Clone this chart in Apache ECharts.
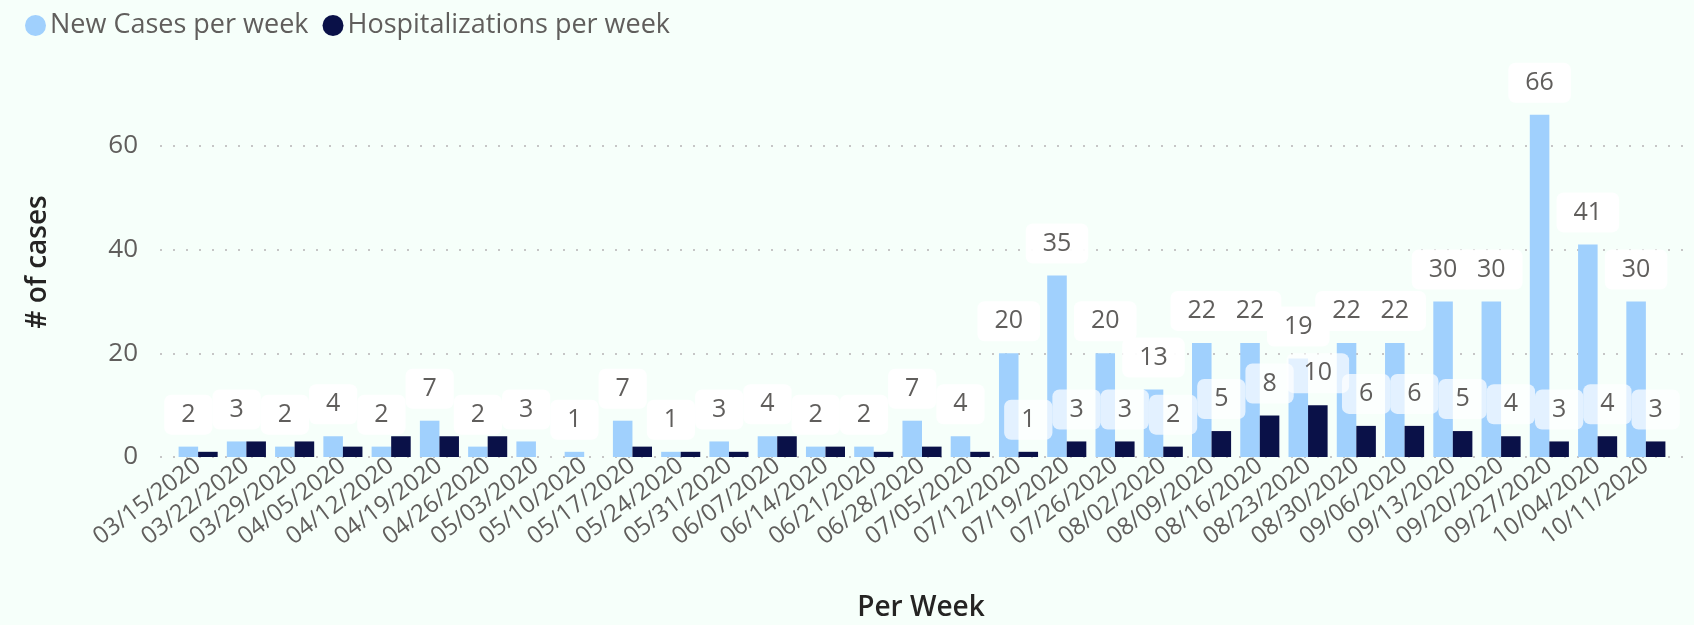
<!DOCTYPE html>
<html>
<head>
<meta charset="utf-8">
<script src="https://cdn.jsdelivr.net/npm/echarts@6/dist/echarts.min.js"></script>
<style>
html,body{margin:0;padding:0;background:#f6fffa;}
#chart{width:1694px;height:625px;}
</style>
</head>
<body>
<div id="chart"></div>
<script>
const weeks = ['03/15/2020','03/22/2020','03/29/2020','04/05/2020','04/12/2020','04/19/2020','04/26/2020','05/03/2020','05/10/2020','05/17/2020','05/24/2020','05/31/2020','06/07/2020','06/14/2020','06/21/2020','06/28/2020','07/05/2020','07/12/2020','07/19/2020','07/26/2020','08/02/2020','08/09/2020','08/16/2020','08/23/2020','08/30/2020','09/06/2020','09/13/2020','09/20/2020','09/27/2020','10/04/2020','10/11/2020'];
const newCases = [2,3,2,4,2,7,2,3,1,7,1,3,4,2,2,7,4,20,35,20,13,22,22,19,22,22,30,30,66,41,30];
const hospitalizations = [1,3,3,2,4,4,4,0,0,2,1,1,4,2,1,2,1,1,3,3,2,5,8,10,6,6,5,4,3,4,3];
const yTicks = [0,20,40,60];
const seriesNames = ['New Cases per week','Hospitalizations per week'];
const xTitle = 'Per Week';
const yTitle = '# of cases';

const FONT = "'Segoe UI','Open Sans','Noto Sans',sans-serif";
const TXT = '#605e5c';
const LIGHT = '#a0d0fd';
const DARK = '#0a1148';
const Y_MAX = 70;
const GRID_TOP = 94, GRID_BOTTOM = 168;
const pxPerUnit = (625 - GRID_TOP - GRID_BOTTOM) / Y_MAX;
const BOX_H = 40;

const chart = echarts.init(document.getElementById('chart'), null, {renderer:'canvas'});

const labelBase = {
  show: true, position: 'top', distance: 12,
  fontFamily: FONT, fontSize: 25, lineHeight: 26, color: TXT,
  borderRadius: 7, padding: [7, 17]
};

const darkData = hospitalizations.map((v, i) => ({
  value: v,
  label: { show: v > 0 && (newCases[i] - v) * pxPerUnit >= BOX_H }
}));

chart.setOption({
  backgroundColor: '#f6fffa',
  animation: false,
  textStyle: { fontFamily: FONT },
  legend: {
    left: 20, top: 7, icon: 'circle', itemWidth: 21, itemHeight: 21, itemGap: 14,
    textStyle: { fontFamily: FONT, fontSize: 27, color: TXT, padding: [0,0,0,-1] },
    data: seriesNames
  },
  grid: [
    { left: 174, right: 24, top: GRID_TOP, bottom: GRID_BOTTOM },
    { left: 160, right: 11, top: GRID_TOP, bottom: GRID_BOTTOM }
  ],
  xAxis: [
    {
      type: 'category', gridIndex: 0, data: weeks,
      axisLine: { show: false }, axisTick: { show: false },
      axisLabel: { rotate: 37, fontFamily: FONT, fontSize: 24, color: TXT, margin: 6, interval: 0 }
    },
    { type: 'value', gridIndex: 1, show: false, min: 0, max: 1 }
  ],
  yAxis: [
    { type: 'value', gridIndex: 0, min: 0, max: Y_MAX, show: false, splitLine: { show: false } },
    {
      type: 'value', gridIndex: 1, min: 0, max: Y_MAX, interval: 20,
      axisLine: { show: false }, axisTick: { show: false },
      axisLabel: {
        fontFamily: FONT, fontSize: 26, color: TXT, margin: 22, showMaxLabel: false,
        formatter: v => yTicks.includes(v) ? String(v) : ''
      },
      splitLine: { show: true, showMaxLine: false, lineStyle: { type: [2, 11], color: '#c6c6c6', width: 2 } }
    }
  ],
  series: [
    {
      name: seriesNames[0], type: 'bar', xAxisIndex: 0, yAxisIndex: 0,
      data: newCases, barGap: '0%', barCategoryGap: '19%',
      itemStyle: { color: LIGHT },
      label: Object.assign({}, labelBase, { backgroundColor: 'rgba(255,255,255,0.95)' })
    },
    {
      name: seriesNames[1], type: 'bar', xAxisIndex: 0, yAxisIndex: 0,
      data: darkData, barGap: '0%', barCategoryGap: '19%',
      itemStyle: { color: DARK },
      label: Object.assign({}, labelBase, { backgroundColor: 'rgba(255,255,255,0.7)' })
    }
  ],
  graphic: [
    { type: 'text', x: 38, y: 262, rotation: Math.PI / 2,
      style: { text: yTitle, fontFamily: FONT, fontSize: 28, fontWeight: 600, fill: '#252423', align: 'center', verticalAlign: 'middle' } },
    { type: 'text', x: 921, y: 608,
      style: { text: xTitle, fontFamily: FONT, fontSize: 28, fontWeight: 600, fill: '#252423', align: 'center', verticalAlign: 'middle' } }
  ]
});
</script>
</body>
</html>
